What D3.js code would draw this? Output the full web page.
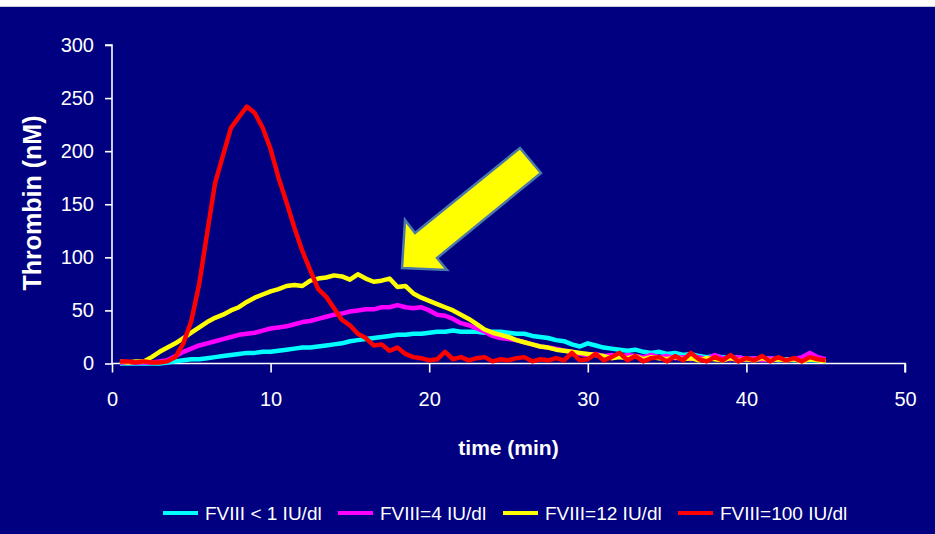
<!DOCTYPE html>
<html>
<head>
<meta charset="utf-8">
<script src="https://cdn.jsdelivr.net/npm/d3@7"></script>
<style>
  body { margin: 0; background: #fff; }
  svg { display: block; }
</style>
</head>
<body>
<script>
// sample times (min)
var time = [0.5, 1, 1.5, 2, 2.5, 3, 3.5, 4, 4.5, 5, 5.5, 6, 6.5, 7, 7.5, 8, 8.5, 9, 9.5, 10,
    10.5, 11, 11.5, 12, 12.5, 13, 13.5, 14, 14.5, 15, 15.5, 16, 16.5, 17, 17.5, 18, 18.5, 19, 19.5, 20,
    20.5, 21, 21.5, 22, 22.5, 23, 23.5, 24, 24.5, 25, 25.5, 26, 26.5, 27, 27.5, 28, 28.5, 29, 29.5, 30,
    30.5, 31, 31.5, 32, 32.5, 33, 33.5, 34, 34.5, 35, 35.5, 36, 36.5, 37, 37.5, 38, 38.5, 39, 39.5, 40,
    40.5, 41, 41.5, 42, 42.5, 43, 43.5, 44, 44.5, 45];

// thrombin (nM)
var fviiiLt1 = [0, 0, 0, 0, 0, 0, 1, 2, 3, 4, 4, 5, 6, 7, 8, 9, 10, 10, 11, 11,
    12, 13, 14, 15, 15, 16, 17, 18, 19, 21, 22, 23, 24, 25, 26, 27, 27, 28, 28, 29,
    30, 30, 31, 30, 30, 30, 29, 30, 30, 29, 28, 28, 26, 25, 24, 22, 21, 18, 16, 19,
    17, 15, 14, 13, 12, 13, 11, 10, 11, 9, 10, 8, 9, 7, 6, 7, 6, 5, 6, 4,
    5, 4, 5, 3, 4, 3, 4, 3, 3, 2];
var fviii4 = [1, 1, 1, 1, 1, 2, 3, 7, 11, 14, 17, 19, 21, 23, 25, 27, 28, 29, 31, 33,
    34, 35, 37, 39, 40, 42, 44, 46, 47, 49, 50, 51, 51, 53, 53, 55, 53, 52, 53, 50,
    46, 45, 42, 38, 36, 33, 30, 26, 24, 23, 22, 20, 18, 16, 15, 14, 12, 11, 9, 8,
    9, 7, 8, 6, 8, 7, 6, 8, 6, 7, 5, 6, 4, 6, 4, 8, 5, 4, 6, 4,
    5, 3, 5, 4, 3, 4, 6, 10, 6, 4];
var fviii12 = [2, 1, 2, 2, 6, 11, 15, 19, 24, 29, 34, 39, 43, 46, 50, 53, 58, 62, 65, 68,
    70, 73, 74, 73, 78, 80, 81, 83, 82, 79, 84, 80, 77, 78, 80, 72, 73, 66, 62, 59,
    56, 53, 50, 46, 42, 37, 32, 29, 27, 25, 22, 20, 18, 16, 15, 13, 12, 11, 10, 9,
    8, 7, 5, 6, 5, 7, 4, 6, 5, 4, 6, 4, 5, 3, 5, 4, 3, 5, 3, 4,
    3, 5, 3, 4, 3, 4, 2, 4, 3, 2];
var fviii100 = [2, 2, 1, 2, 1, 1, 2, 6, 19, 40, 75, 123, 170, 196, 222, 232, 242, 236, 222, 202,
    175, 152, 128, 106, 88, 70, 63, 52, 41, 36, 28, 24, 17, 18, 12, 15, 9, 6, 5, 3,
    4, 11, 4, 6, 3, 5, 6, 2, 4, 3, 5, 6, 2, 4, 3, 5, 3, 10, 3, 4,
    9, 3, 6, 10, 3, 7, 2, 5, 6, 2, 7, 3, 10, 4, 2, 6, 3, 8, 2, 5,
    3, 7, 2, 6, 3, 5, 2, 6, 4, 3];

var seriesNames = ['FVIII < 1 IU/dl', 'FVIII=4 IU/dl', 'FVIII=12 IU/dl', 'FVIII=100 IU/dl'],
    seriesColors = ['#00ffff', '#ff00ff', '#ffff00', '#ff0000'],
    seriesValues = [fviiiLt1, fviii4, fviii12, fviii100],
    xTicks = [0, 10, 20, 30, 40, 50],
    yTicks = [0, 50, 100, 150, 200, 250, 300];

var svgwidth = 935,
    svgheight = 534,
    margin = { top: 45, left: 112, right: 30, bottom: 170 },
    plotRight = 905, //x=50
    plotBottom = 363.5; //y=0

var xscale = d3.scaleLinear()
    .domain([0, 50])
    .range([margin.left, plotRight]);

var yscale = d3.scaleLinear()
    .domain([0, 300])
    .range([plotBottom, margin.top]);

var svg = d3.select('body')
    .append('svg')
    .attr('width', svgwidth)
    .attr('height', svgheight);

//navy slide background, thin white strip on top
svg.append('rect')
    .attr('x', 0)
    .attr('y', 7)
    .attr('width', svgwidth)
    .attr('height', svgheight - 7)
    .attr('fill', '#000080');
svg.append('line')
    .attr('x1', 0).attr('x2', svgwidth)
    .attr('y1', 6.5).attr('y2', 6.5)
    .attr('stroke', '#c8c8d8')
    .attr('stroke-width', 1);

//axes
var xaxis = d3.axisBottom(xscale)
    .tickValues(xTicks)
    .tickSize(9)
    .tickPadding(19)
    .tickFormat(d3.format('d'));
var yaxis = d3.axisLeft(yscale)
    .tickValues(yTicks)
    .tickSize(7)
    .tickPadding(11)
    .tickFormat(d3.format('d'));

var gx = svg.append('g')
    .attr('transform', 'translate(0, ' + plotBottom + ')')
    .call(xaxis);
var gy = svg.append('g')
    .attr('transform', 'translate(' + margin.left + ', 0)')
    .call(yaxis);

[gx, gy].forEach(function (g) {
    g.select('.domain').attr('stroke', '#fff').attr('stroke-width', 1.6);
    g.selectAll('.tick line').attr('stroke', '#fff').attr('stroke-width', 1.6);
    g.selectAll('.tick text')
        .attr('fill', '#fff')
        .attr('font-family', 'Liberation Sans, Arial, sans-serif')
        .attr('font-size', '20px');
});
gx.select('.domain').attr('d', 'M' + margin.left + ',0H' + plotRight + 'V9');
gy.select('.domain').attr('d', 'M0,' + plotBottom + 'V' + margin.top + 'H-7');

//curves
var line = d3.line()
    .x(function (d, i) { return xscale(time[i]); })
    .y(function (d) { return yscale(d); })
    .curve(d3.curveLinear);

seriesValues.forEach(function (vals, k) {
    svg.append('path')
        .datum(vals)
        .attr('d', line)
        .attr('fill', 'none')
        .attr('stroke', seriesColors[k])
        .attr('stroke-width', 4.5)
        .attr('stroke-linejoin', 'round');
});

//axis titles
svg.append('text')
    .attr('x', xscale(25))
    .attr('y', 455)
    .attr('text-anchor', 'middle')
    .attr('fill', '#fff')
    .attr('font-family', 'Liberation Sans, Arial, sans-serif')
    .attr('font-size', '21px')
    .attr('font-weight', 'bold')
    .text('time (min)');

svg.append('text')
    .attr('transform', 'translate(41, 203) rotate(-90)')
    .attr('text-anchor', 'middle')
    .attr('fill', '#fff')
    .attr('font-family', 'Liberation Sans, Arial, sans-serif')
    .attr('font-size', '25px')
    .attr('font-weight', 'bold')
    .text('Thrombin (nM)');

//yellow arrow annotation
var arrow = [[402, 268], [405, 220], [415, 233], [520, 148], [541, 173], [437, 258], [447, 270]];
svg.append('path')
    .attr('d', 'M' + arrow.join('L') + 'Z')
    .attr('fill', '#ffff00')
    .attr('stroke', '#4a78a8')
    .attr('stroke-width', 2.5)
    .attr('stroke-linejoin', 'miter');

//legend
var legendX = [163, 338, 503, 678], legendY = 513;
var legend = svg.selectAll('.legend')
    .data(seriesNames)
    .enter().append('g')
    .attr('class', 'legend')
    .attr('transform', function (d, i) { return 'translate(' + legendX[i] + ', ' + legendY + ')'; });
legend.append('line')
    .attr('x1', 0).attr('x2', 35)
    .attr('y1', 0).attr('y2', 0)
    .attr('stroke', function (d, i) { return seriesColors[i]; })
    .attr('stroke-width', 4);
legend.append('text')
    .attr('x', 42)
    .attr('y', 7)
    .attr('fill', '#fff')
    .attr('font-family', 'Liberation Sans, Arial, sans-serif')
    .attr('font-size', '19px')
    .text(function (d) { return d; });
</script>
</body>
</html>
